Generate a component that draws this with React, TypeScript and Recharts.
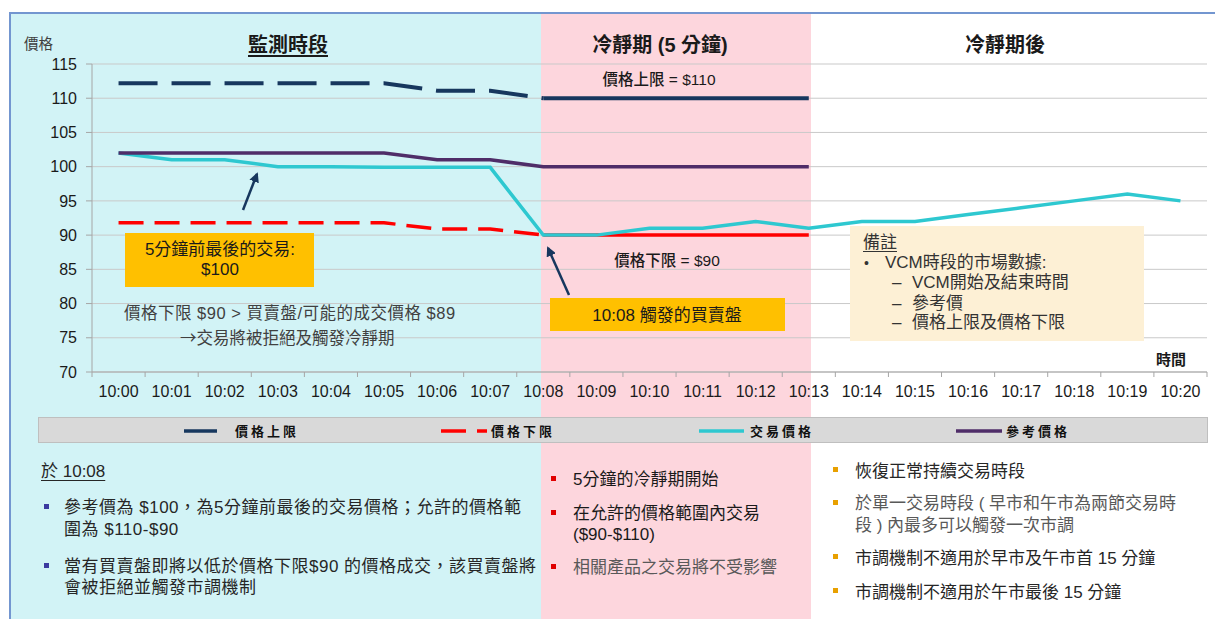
import React from 'react';
import { LineChart, Line, XAxis, YAxis, CartesianGrid } from 'recharts';

// ---------- data ----------
const times = ['10:00', '10:01', '10:02', '10:03', '10:04', '10:05', '10:06', '10:07', '10:08', '10:09', '10:10',
  '10:11', '10:12', '10:13', '10:14', '10:15', '10:16', '10:17', '10:18', '10:19', '10:20'];
const upperLimitBefore = [112.2, 112.2, 112.2, 112.2, 112.2, 112.2, 111.1, 111.1, 110, null, null, null, null, null, null, null, null, null, null, null, null];
const upperLimitVcm = [null, null, null, null, null, null, null, null, 110, 110, 110, 110, 110, 110, null, null, null, null, null, null, null];
const lowerLimitBefore = [91.8, 91.8, 91.8, 91.8, 91.8, 91.8, 90.9, 90.9, 90, null, null, null, null, null, null, null, null, null, null, null, null];
const lowerLimitVcm = [null, null, null, null, null, null, null, null, 90, 90, 90, 90, 90, 90, null, null, null, null, null, null, null];
const tradePrice = [102, 101, 101, 100, 100, 99.9, 99.9, 99.9, 90, 90, 91, 91, 92, 91, 92, 92, 93, 94, 95, 96, 95];
const referencePrice = [102, 102, 102, 102, 102, 102, 101, 101, 100, 100, 100, 100, 100, 100, null, null, null, null, null, null, null];
const yTicks = [70, 75, 80, 85, 90, 95, 100, 105, 110, 115];
const legendNames = ['價格上限', '價格下限', '交易價格', '參考價格'];

const data = times.map((t, i) => ({
  time: t,
  upperBefore: upperLimitBefore[i],
  upperVcm: upperLimitVcm[i],
  lowerBefore: lowerLimitBefore[i],
  lowerVcm: lowerLimitVcm[i],
  trade: tradePrice[i],
  reference: referencePrice[i],
}));

// ---------- style / layout ----------
const W = 1215;
const H = 619;
const PLOT_LEFT = 92;
const PLOT_RIGHT = 1207;
const PLOT_TOP = 64;
const PLOT_BOTTOM = 372;
const STEP = (PLOT_RIGHT - PLOT_LEFT) / times.length;
const HALF = STEP / 2;

const NAVY = '#17375E';
const RED = '#FF0000';
const CYAN = '#2EC8D0';
const PURPLE = '#4F2D68';
const AXIS = '#A6A6A6';
const GRID = '#C9C9C9';
const ORANGE = '#FFC000';
const FONT = '"Liberation Sans", Arial, "Noto Sans CJK TC", sans-serif';
const CJK = '"Noto Sans CJK TC", "Liberation Sans", sans-serif';

function TimeTick(props: any) {
  const { x, y, payload, index } = props;
  return (
    <g>
      <line x1={x - HALF} x2={x - HALF} y1={PLOT_BOTTOM} y2={PLOT_BOTTOM + 5} stroke={AXIS} strokeWidth={1} />
      {index === times.length - 1 && (
        <line x1={x + HALF} x2={x + HALF} y1={PLOT_BOTTOM} y2={PLOT_BOTTOM + 5} stroke={AXIS} strokeWidth={1} />
      )}
      <text x={x} y={y} dy="0.71em" textAnchor="middle" fontSize={16} fill="#1a1a1a" fontFamily={FONT}>
        {payload.value}
      </text>
    </g>
  );
}

type TxtProps = {
  x: number; y: number; size?: number; color?: string; weight?: number;
  align?: 'left' | 'center' | 'right'; underline?: boolean; lh?: number; ls?: number; family?: string;
  children: React.ReactNode;
};
function Txt({ x, y, size = 17, color = '#262626', weight = 400, align = 'left', underline = false, lh, ls = 0, family = FONT, children }: TxtProps) {
  const lineH = lh ?? Math.round(size * 1.25);
  const style: React.CSSProperties = {
    position: 'absolute', left: x, top: y - lineH / 2, fontSize: size, lineHeight: lineH + 'px',
    color, fontWeight: weight, whiteSpace: 'nowrap', fontFamily: family, letterSpacing: ls,
    textDecoration: underline ? 'underline' : 'none', textUnderlineOffset: 3,
    transform: align === 'center' ? 'translateX(-50%)' : align === 'right' ? 'translateX(-100%)' : undefined,
  };
  return <div style={style}>{children}</div>;
}

function Bullet({ x, y, color }: { x: number; y: number; color: string }) {
  return <div style={{ position: 'absolute', left: x - 2.5, top: y - 3, width: 5, height: 5, background: color }} />;
}

function LegendItem({ left, lineW, color, dashed, textGap, name }: { left: number; lineW: number; color: string; dashed?: boolean; textGap: number; name: string }) {
  return (
    <div style={{ position: 'absolute', left, top: 417, height: 27, display: 'flex', alignItems: 'center' }}>
      <svg width={lineW} height={8} style={{ display: 'block' }}>
        {dashed ? (
          <>
            <line x1={0} x2={25} y1={4} y2={4} stroke={color} strokeWidth={3.5} />
            <line x1={36} x2={46} y1={4} y2={4} stroke={color} strokeWidth={3.5} />
          </>
        ) : (
          <line x1={0} x2={lineW} y1={4} y2={4} stroke={color} strokeWidth={3.5} strokeLinecap="round" />
        )}
      </svg>
      <span style={{ marginLeft: textGap, fontFamily: CJK, fontSize: 13, fontWeight: 700, letterSpacing: 3, color: '#111' }}>{name}</span>
    </div>
  );
}

export default function App() {
  return (
    <div style={{ position: 'absolute', left: 0, top: 0, width: W, height: H, overflow: 'hidden', background: '#fff', fontFamily: FONT }}>
      {/* background bands */}
      <div style={{ position: 'absolute', left: 11, top: 14, width: 541 - 11, height: H, background: '#D2F3F6' }} />
      <div style={{ position: 'absolute', left: 541, top: 14, width: 811 - 541, height: H, background: '#FDD6DD' }} />
      {/* frame */}
      <div style={{ position: 'absolute', left: 9, top: 12, width: W, height: H, borderTop: '2px solid #7396D0', borderLeft: '2px solid #7396D0' }} />

      {/* chart */}
      <div style={{ position: 'absolute', left: 0, top: 0 }}>
        <LineChart width={W} height={H} data={data}
          margin={{ top: PLOT_TOP, right: W - PLOT_RIGHT, left: 40, bottom: H - PLOT_BOTTOM - 30 }}>
          <CartesianGrid vertical={false} stroke={GRID} strokeWidth={1} />
          <XAxis dataKey="time" interval={0} height={30} tickLine={false} axisLine={{ stroke: AXIS }}
            tickSize={5} tickMargin={9} padding={{ left: HALF, right: HALF }}
            tick={(p: any) => <TimeTick {...p} />} />
          <YAxis width={52} domain={[70, 115]} ticks={yTicks} interval={0} tickSize={6} tickMargin={9}
            axisLine={{ stroke: AXIS }} tickLine={{ stroke: AXIS }}
            tick={{ fontSize: 16, fill: '#1a1a1a', fontFamily: FONT }} />
          <Line dataKey="upperBefore" stroke={NAVY} strokeWidth={4} strokeDasharray="39 14" dot={false} activeDot={false} isAnimationActive={false} />
          <Line dataKey="upperVcm" stroke={NAVY} strokeWidth={4} dot={false} activeDot={false} isAnimationActive={false} />
          <Line dataKey="lowerBefore" stroke={RED} strokeWidth={3.5} strokeDasharray="25 11" dot={false} activeDot={false} isAnimationActive={false} />
          <Line dataKey="lowerVcm" stroke={RED} strokeWidth={3.5} dot={false} activeDot={false} isAnimationActive={false} />
          <Line dataKey="trade" stroke={CYAN} strokeWidth={3.5} dot={false} activeDot={false} isAnimationActive={false} />
          <Line dataKey="reference" stroke={PURPLE} strokeWidth={3.5} dot={false} activeDot={false} isAnimationActive={false} />
        </LineChart>
      </div>

      {/* titles */}
      <Txt x={24} y={43} size={14.5} color="#404040" family={CJK}>價格</Txt>
      <Txt x={288} y={45} size={20} weight={600} align="center" underline color="#1a1a1a">監測時段</Txt>
      <Txt x={660} y={45} size={20} weight={600} align="center" color="#1a1a1a">冷靜期 (5 分鐘)</Txt>
      <Txt x={1005} y={45} size={20} weight={600} align="center" color="#1a1a1a">冷靜期後</Txt>
      <Txt x={659} y={79} size={15.5} weight={500} align="center" color="#1a1a1a">價格上限 = $110</Txt>
      <Txt x={667} y={260} size={15.5} weight={500} align="center" color="#1a1a1a">價格下限 = $90</Txt>
      <Txt x={1156} y={359} size={15} weight={700} color="#1a1a1a">時間</Txt>

      {/* orange box 1 */}
      <div style={{ position: 'absolute', left: 125, top: 233, width: 189, height: 54, background: ORANGE }} />
      <Txt x={220} y={250} size={17} align="center" color="#1a1a1a" lh={20}>5分鐘前最後的交易:</Txt>
      <Txt x={220} y={270} size={17} align="center" color="#1a1a1a" lh={20}>$100</Txt>

      {/* orange box 2 */}
      <div style={{ position: 'absolute', left: 550, top: 298, width: 235, height: 33, background: ORANGE }} />
      <Txt x={667} y={315} size={17} align="center" color="#1a1a1a">10:08 觸發的買賣盤</Txt>

      {/* explanation */}
      <Txt x={124} y={313} size={16.5} ls={0.5} color="#404040">價格下限 $90 &gt; 買賣盤/可能的成交價格 $89</Txt>
      <Txt x={180} y={337} size={16.5} color="#404040" family={CJK}>→交易將被拒絕及觸發冷靜期</Txt>

      {/* note box */}
      <div style={{ position: 'absolute', left: 850, top: 226, width: 294, height: 115, background: '#FDF0D5' }} />
      <Txt x={863} y={243} size={17} underline color="#333" lh={20}>備註</Txt>
      <Txt x={864} y={263} size={14} color="#333" lh={20}>•</Txt>
      <Txt x={885} y={263} size={17} color="#333" lh={20}>VCM時段的市場數據:</Txt>
      <Txt x={892} y={283} size={17} color="#333" lh={20}>–</Txt>
      <Txt x={912} y={283} size={17} color="#333" lh={20}>VCM開始及結束時間</Txt>
      <Txt x={892} y={304} size={17} color="#333" lh={20}>–</Txt>
      <Txt x={912} y={304} size={17} color="#333" lh={20}>參考價</Txt>
      <Txt x={892} y={323} size={17} color="#333" lh={20}>–</Txt>
      <Txt x={912} y={323} size={17} color="#333" lh={20}>價格上限及價格下限</Txt>

      {/* arrows */}
      <svg width={W} height={H} style={{ position: 'absolute', left: 0, top: 0, pointerEvents: 'none' }}>
        <defs>
          <marker id="ah" viewBox="0 0 10 10" refX="8" refY="5" markerWidth="4" markerHeight="4" orient="auto-start-reverse">
            <path d="M0,0 L10,5 L0,10 z" fill={NAVY} />
          </marker>
        </defs>
        <line x1={243} y1={210} x2={257} y2={174} stroke={NAVY} strokeWidth={2.5} markerEnd="url(#ah)" />
        <line x1={569} y1={295} x2={548} y2={248} stroke={NAVY} strokeWidth={2.5} markerEnd="url(#ah)" />
      </svg>

      {/* legend */}
      <div style={{ position: 'absolute', left: 38, top: 417, width: 1170, height: 26, background: '#D9D9D9', border: '1px solid #BFBFBF', boxSizing: 'border-box' }} />
      <LegendItem left={184} lineW={33} color={NAVY} textGap={18} name={legendNames[0]} />
      <LegendItem left={441} lineW={46} color={RED} dashed textGap={4} name={legendNames[1]} />
      <LegendItem left={699} lineW={45} color={CYAN} textGap={6} name={legendNames[2]} />
      <LegendItem left={956} lineW={46} color={PURPLE} textGap={4} name={legendNames[3]} />

      {/* bottom left */}
      <Txt x={41} y={471} size={17} underline color="#262626">於 10:08</Txt>
      <Bullet x={46} y={507} color="#3B3BA0" />
      <Txt x={64} y={507} size={17} ls={0.5} color="#262626">參考價為 $100，為5分鐘前最後的交易價格；允許的價格範</Txt>
      <Txt x={64} y={529} size={17} ls={0.5} color="#262626">圍為 $110-$90</Txt>
      <Bullet x={46} y={566} color="#3B3BA0" />
      <Txt x={64} y={566} size={17} ls={0.5} color="#262626">當有買賣盤即將以低於價格下限$90 的價格成交，該買賣盤將</Txt>
      <Txt x={64} y={587} size={17} ls={0.5} color="#262626">會被拒絕並觸發市調機制</Txt>

      {/* bottom middle */}
      <Bullet x={553} y={479} color="#E00000" />
      <Txt x={573} y={479} size={17} color="#1a1a1a">5分鐘的冷靜期開始</Txt>
      <Bullet x={553} y={513} color="#E00000" />
      <Txt x={573} y={513} size={17} color="#1a1a1a">在允許的價格範圍內交易</Txt>
      <Txt x={573} y={534} size={17} color="#1a1a1a">($90-$110)</Txt>
      <Bullet x={553} y={567} color="#E00000" />
      <Txt x={573} y={567} size={17} color="#595959">相關產品之交易將不受影響</Txt>

      {/* bottom right */}
      <Bullet x={835} y={470} color="#E8A000" />
      <Txt x={855} y={471} size={17} color="#262626">恢復正常持續交易時段</Txt>
      <Bullet x={835} y={503} color="#E8A000" />
      <Txt x={855} y={503} size={17} color="#595959">於單一交易時段 ( 早市和午市為兩節交易時</Txt>
      <Txt x={855} y={525} size={17} color="#595959">段 ) 內最多可以觸發一次市調</Txt>
      <Bullet x={835} y={557} color="#E8A000" />
      <Txt x={855} y={558} size={17} color="#262626">市調機制不適用於早市及午市首 15 分鐘</Txt>
      <Bullet x={835} y={591} color="#E8A000" />
      <Txt x={855} y={592} size={17} color="#262626">市調機制不適用於午市最後 15 分鐘</Txt>
    </div>
  );
}
